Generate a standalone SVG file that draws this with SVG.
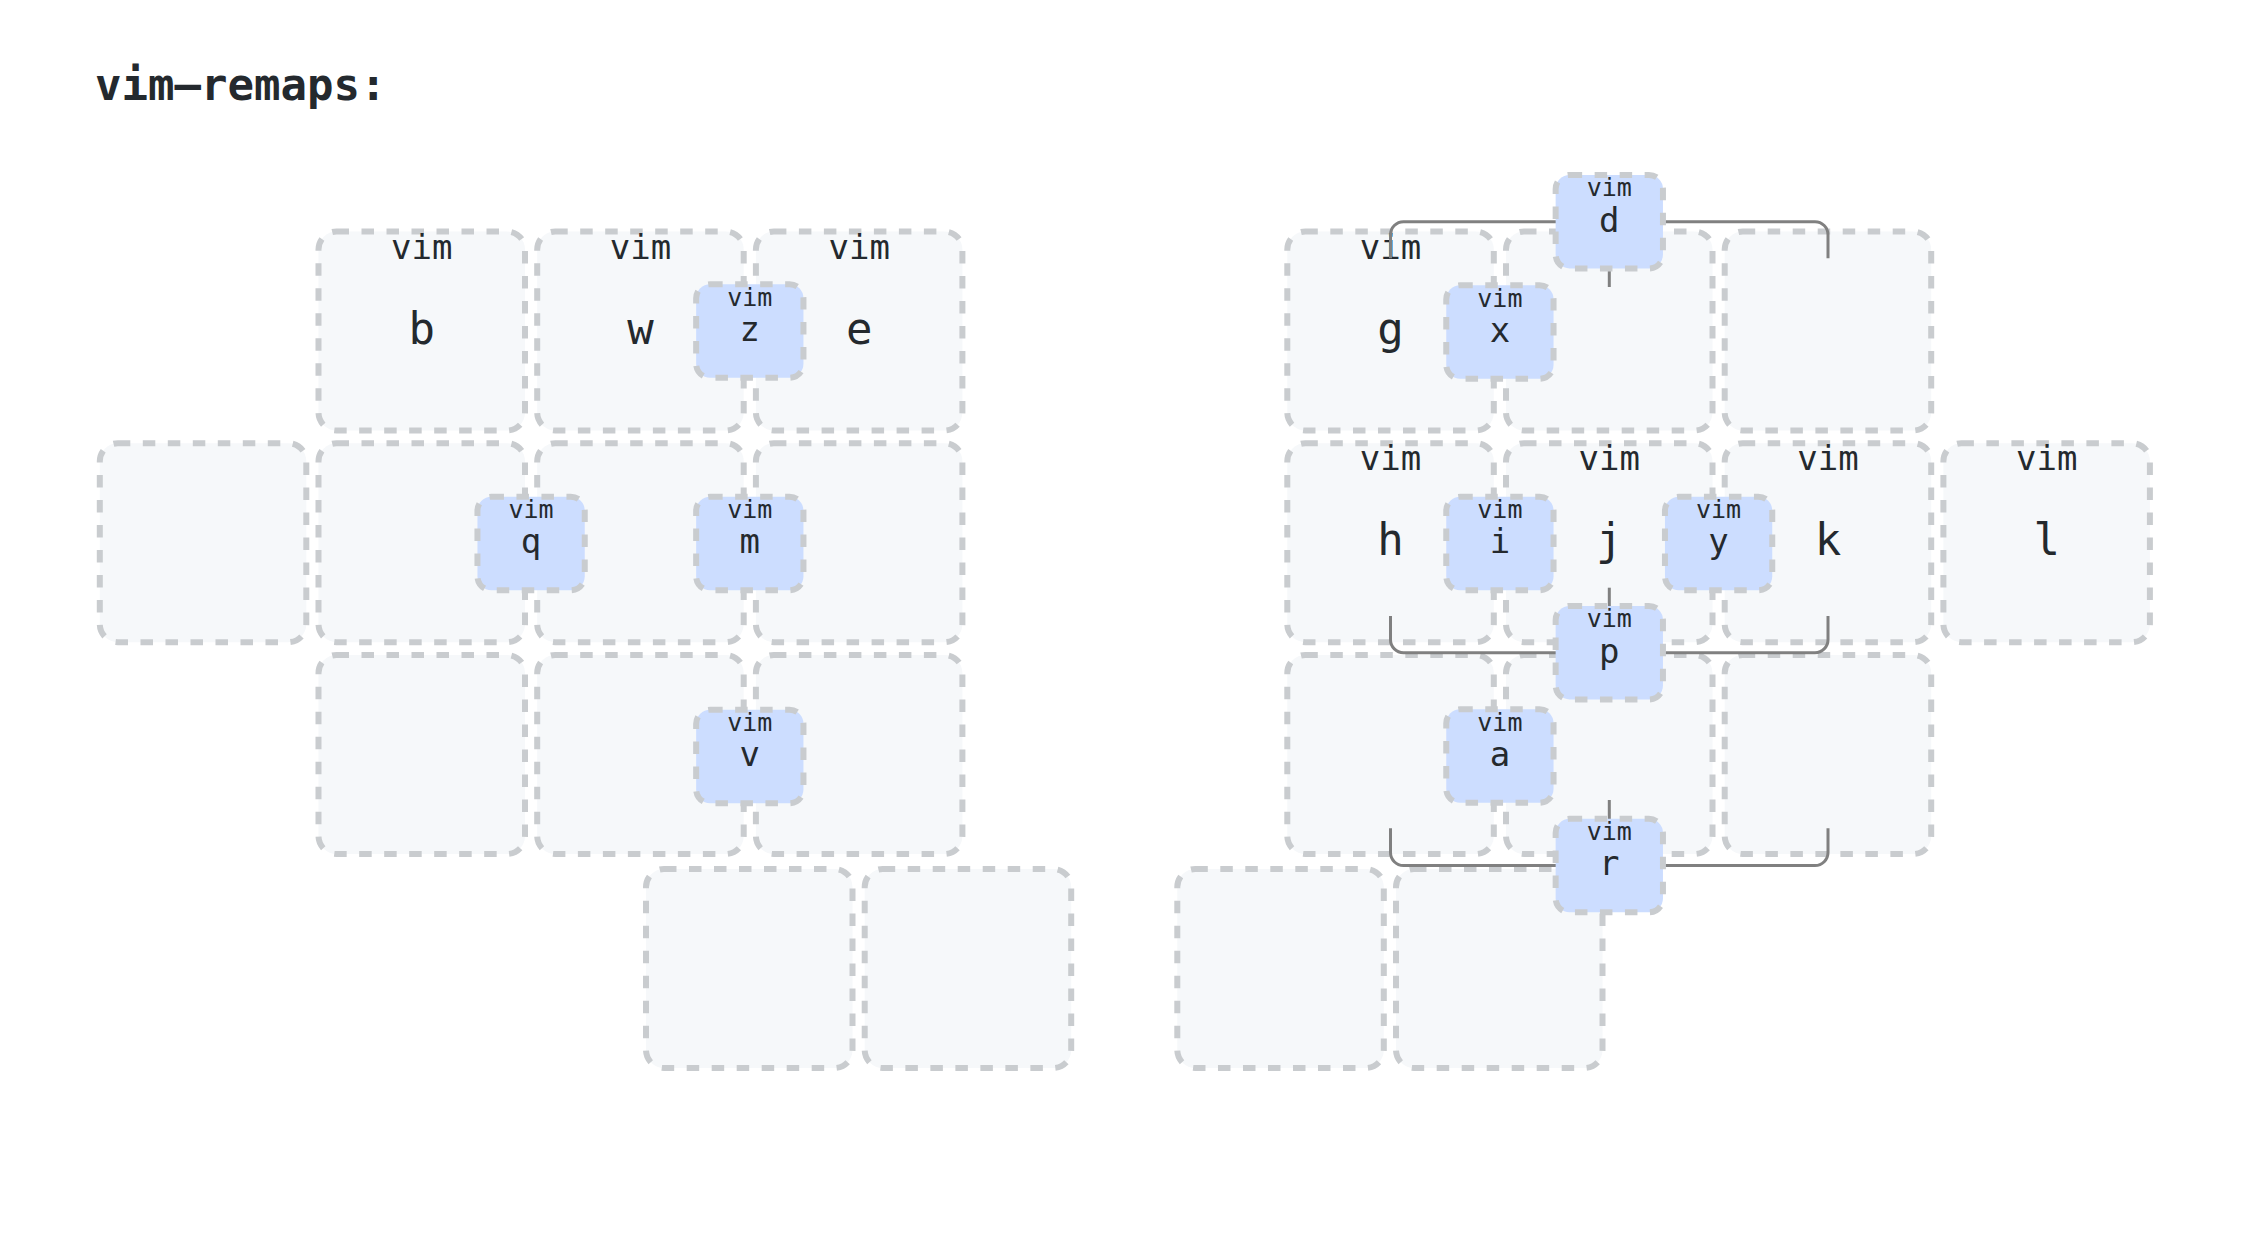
<svg xmlns="http://www.w3.org/2000/svg" width="2250" height="1250" viewBox="0 0 2250 1250">
<style>
  .bg { fill: #ffffff; }
  .key { fill: #f6f8fa; stroke: #c9cccf; stroke-width: 6; stroke-dasharray: 12.5 12.5; }
  .combo { fill: #ccddff; stroke: #c9cccf; stroke-width: 6; stroke-dasharray: 12.5 12.5; }
  text { font-family: "DejaVu Sans Mono", "Liberation Mono", monospace; fill: #24292e; text-anchor: middle; }
  .title { font-size: 44px; font-weight: bold; text-anchor: start; }
  .tap { font-size: 44px; }
  .small { font-size: 34px; }
  .ctap { font-size: 34px; }
  .csmall { font-size: 25px; }
  .line { fill: none; stroke: #808080; stroke-width: 3; }
</style>
<rect class="bg" x="0" y="0" width="2250" height="1250"/>
<text class="title" x="95" y="100">vim–remaps:</text>

<g id="keys-left">
  <g id="key-b"><rect class="key" x="318.5" y="231.5" width="206.5" height="199" rx="18"/><text class="small" x="421.75" y="258.5">vim</text><text class="tap" x="421.75" y="343.5">b</text></g>
  <g id="key-w"><rect class="key" x="537.2" y="231.5" width="206.5" height="199" rx="18"/><text class="small" x="640.45" y="258.5">vim</text><text class="tap" x="640.45" y="343.5">w</text></g>
  <g id="key-e"><rect class="key" x="755.9" y="231.5" width="206.5" height="199" rx="18"/><text class="small" x="859.15" y="258.5">vim</text><text class="tap" x="859.15" y="343.5">e</text></g>
  <g id="key-l10"><rect class="key" x="99.8" y="443.2" width="206.5" height="199" rx="18"/></g>
  <g id="key-l11"><rect class="key" x="318.5" y="443.2" width="206.5" height="199" rx="18"/></g>
  <g id="key-l12"><rect class="key" x="537.2" y="443.2" width="206.5" height="199" rx="18"/></g>
  <g id="key-l13"><rect class="key" x="755.9" y="443.2" width="206.5" height="199" rx="18"/></g>
  <g id="key-l21"><rect class="key" x="318.5" y="655" width="206.5" height="199" rx="18"/></g>
  <g id="key-l22"><rect class="key" x="537.2" y="655" width="206.5" height="199" rx="18"/></g>
  <g id="key-l23"><rect class="key" x="755.9" y="655" width="206.5" height="199" rx="18"/></g>
  <g id="key-lt1"><rect class="key" x="646" y="869" width="206.5" height="199" rx="18"/></g>
  <g id="key-lt2"><rect class="key" x="864.7" y="869" width="206.5" height="199" rx="18"/></g>
</g>

<g id="keys-right">
  <g id="key-g"><rect class="key" x="1287.3" y="231.5" width="206.5" height="199" rx="18"/><text class="small" x="1390.55" y="258.5">vim</text><text class="tap" x="1390.55" y="343.5">g</text></g>
  <g id="key-r01"><rect class="key" x="1506" y="231.5" width="206.5" height="199" rx="18"/></g>
  <g id="key-r02"><rect class="key" x="1724.7" y="231.5" width="206.5" height="199" rx="18"/></g>
  <g id="key-h"><rect class="key" x="1287.3" y="443.2" width="206.5" height="199" rx="18"/><text class="small" x="1390.55" y="470.2">vim</text><text class="tap" x="1390.55" y="555.2">h</text></g>
  <g id="key-j"><rect class="key" x="1506" y="443.2" width="206.5" height="199" rx="18"/><text class="small" x="1609.25" y="470.2">vim</text><text class="tap" x="1609.25" y="555.2">j</text></g>
  <g id="key-k"><rect class="key" x="1724.7" y="443.2" width="206.5" height="199" rx="18"/><text class="small" x="1827.95" y="470.2">vim</text><text class="tap" x="1827.95" y="555.2">k</text></g>
  <g id="key-l"><rect class="key" x="1943.4" y="443.2" width="206.5" height="199" rx="18"/><text class="small" x="2046.65" y="470.2">vim</text><text class="tap" x="2046.65" y="555.2">l</text></g>
  <g id="key-r20"><rect class="key" x="1287.3" y="655" width="206.5" height="199" rx="18"/></g>
  <g id="key-r21"><rect class="key" x="1506" y="655" width="206.5" height="199" rx="18"/></g>
  <g id="key-r22"><rect class="key" x="1724.7" y="655" width="206.5" height="199" rx="18"/></g>
  <g id="key-rt1"><rect class="key" x="1177.3" y="869" width="206.5" height="199" rx="18"/></g>
  <g id="key-rt2"><rect class="key" x="1396" y="869" width="206.5" height="199" rx="18"/></g>
</g>

<g id="connectors">
  <path class="line" d="M1390.5,258.3 V234.7 A13,13 0 0 1 1403.5,221.7 H1815 A13,13 0 0 1 1828,234.7 V258.3"/>
  <path class="line" d="M1609.3,266 V287"/>
  <path class="line" d="M1390.5,616 V639.7 A13,13 0 0 0 1403.5,652.7 H1815 A13,13 0 0 0 1828,639.7 V616"/>
  <path class="line" d="M1609.3,587.7 V608"/>
  <path class="line" d="M1390.5,828.3 V852.6 A13,13 0 0 0 1403.5,865.6 H1815 A13,13 0 0 0 1828,852.6 V828.3"/>
  <path class="line" d="M1609.3,800 V820"/>
</g>

<g id="combos">
  <g id="combo-z"><rect class="combo" x="696.15" y="284.25" width="107.3" height="93.5" rx="14"/><text class="csmall" x="749.8" y="305.5">vim</text><text class="ctap" x="749.8" y="340.5">z</text></g>
  <g id="combo-q"><rect class="combo" x="477.45" y="496.75" width="107.3" height="93.5" rx="14"/><text class="csmall" x="531.1" y="518">vim</text><text class="ctap" x="531.1" y="553">q</text></g>
  <g id="combo-m"><rect class="combo" x="696.15" y="496.75" width="107.3" height="93.5" rx="14"/><text class="csmall" x="749.8" y="518">vim</text><text class="ctap" x="749.8" y="553">m</text></g>
  <g id="combo-v"><rect class="combo" x="696.15" y="709.75" width="107.3" height="93.5" rx="14"/><text class="csmall" x="749.8" y="731">vim</text><text class="ctap" x="749.8" y="766">v</text></g>
  <g id="combo-x"><rect class="combo" x="1446.25" y="285.25" width="107.3" height="93.5" rx="14"/><text class="csmall" x="1499.9" y="306.5">vim</text><text class="ctap" x="1499.9" y="341.5">x</text></g>
  <g id="combo-i"><rect class="combo" x="1446.25" y="496.75" width="107.3" height="93.5" rx="14"/><text class="csmall" x="1499.9" y="518">vim</text><text class="ctap" x="1499.9" y="553">i</text></g>
  <g id="combo-y"><rect class="combo" x="1664.95" y="496.75" width="107.3" height="93.5" rx="14"/><text class="csmall" x="1718.6" y="518">vim</text><text class="ctap" x="1718.6" y="553">y</text></g>
  <g id="combo-a"><rect class="combo" x="1446.25" y="709.25" width="107.3" height="93.5" rx="14"/><text class="csmall" x="1499.9" y="730.5">vim</text><text class="ctap" x="1499.9" y="765.5">a</text></g>
  <g id="combo-d"><rect class="combo" x="1555.65" y="174.95" width="107.3" height="93.5" rx="14"/><text class="csmall" x="1609.3" y="196.2">vim</text><text class="ctap" x="1609.3" y="231.5">d</text></g>
  <g id="combo-p"><rect class="combo" x="1555.65" y="605.95" width="107.3" height="93.5" rx="14"/><text class="csmall" x="1609.3" y="627.2">vim</text><text class="ctap" x="1609.3" y="662.5">p</text></g>
  <g id="combo-r"><rect class="combo" x="1555.65" y="818.85" width="107.3" height="93.5" rx="14"/><text class="csmall" x="1609.3" y="840.1">vim</text><text class="ctap" x="1609.3" y="875.4">r</text></g>
</g>
</svg>
